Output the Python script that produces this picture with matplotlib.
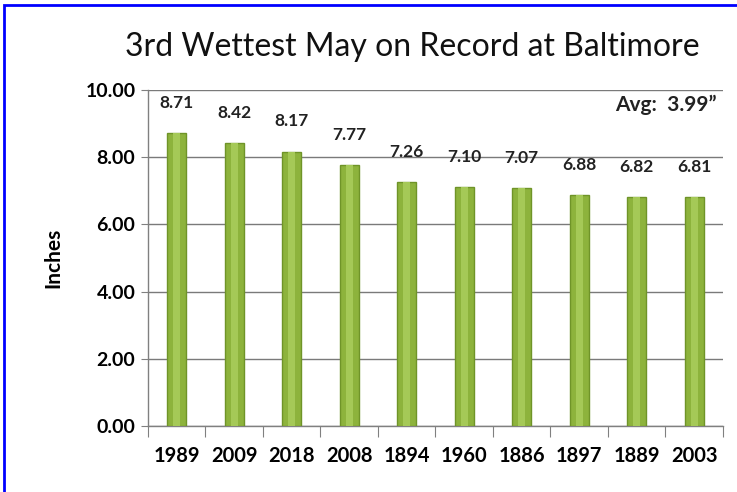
import matplotlib.pyplot as plt
from matplotlib.patches import Rectangle

years = ["1989", "2009", "2018", "2008", "1894", "1960", "1886", "1897", "1889", "2003"]
rain = [8.71, 8.42, 8.17, 7.77, 7.26, 7.10, 7.07, 6.88, 6.82, 6.81]
avg = 3.99

plt.rcParams['font.family'] = ['Lato', 'DejaVu Sans']

fig = plt.figure(figsize=(7.37, 4.92), dpi=100)
ax = fig.add_axes([0.2008, 0.134, 0.780, 0.683])

x = range(len(years))
ax.bar(x, rain, width=0.33, color='#8db33c', edgecolor='#6f9428', linewidth=1.0, zorder=3)
# lighter highlight down the middle of each bar
ax.bar(x, rain, width=0.12, color='#a5c957', linewidth=0, zorder=4)

for i, v in enumerate(rain):
    ax.annotate(f"{v:.2f}", (i, v), xytext=(0, 16), textcoords='offset points',
                ha='center', va='bottom', fontsize=12.5, fontweight='bold', color='#222222')

ax.text(0.99, 0.985, f"Avg:  {avg:.2f}\u201d", transform=ax.transAxes, ha='right', va='top',
        fontsize=15, fontweight='bold', color='#222222')

ax.set_xlim(-0.5, len(years) - 0.5)
ax.set_ylim(0, 10)
ax.set_yticks([0, 2, 4, 6, 8, 10])
ax.set_yticklabels([f"{t:.2f}" for t in [0, 2, 4, 6, 8, 10]], fontsize=14, fontweight='bold')
ax.set_xticks([i - 0.5 for i in range(len(years) + 1)], minor=False)
ax.set_xticklabels([])
ax.set_xticks(list(x), minor=True)
ax.set_xticklabels(years, minor=True, fontsize=14.5, fontweight='bold')
ax.tick_params(axis='x', which='major', length=8, color='#808080')
ax.tick_params(axis='x', which='minor', length=0, pad=14)
ax.tick_params(axis='y', length=5, color='#808080', pad=4)

ax.grid(axis='y', color='#7a7a7a', linewidth=1.0, zorder=0)
for s in ['top', 'right']:
    ax.spines[s].set_visible(False)
for s in ['left', 'bottom']:
    ax.spines[s].set_color('#808080')
    ax.spines[s].set_linewidth(1.0)

ax.set_ylabel("Inches", fontsize=15, fontweight='bold', labelpad=16)
fig.text(0.56, 0.905, "3rd Wettest May on Record at Baltimore", ha='center', va='center',
         fontsize=23, color='#111111')

fig.patches.append(Rectangle((0.005, -0.05), 1.2, 1.04, transform=fig.transFigure,
                             fill=False, edgecolor='#0000ff', linewidth=2))

fig.savefig("out.png", dpi=100)
